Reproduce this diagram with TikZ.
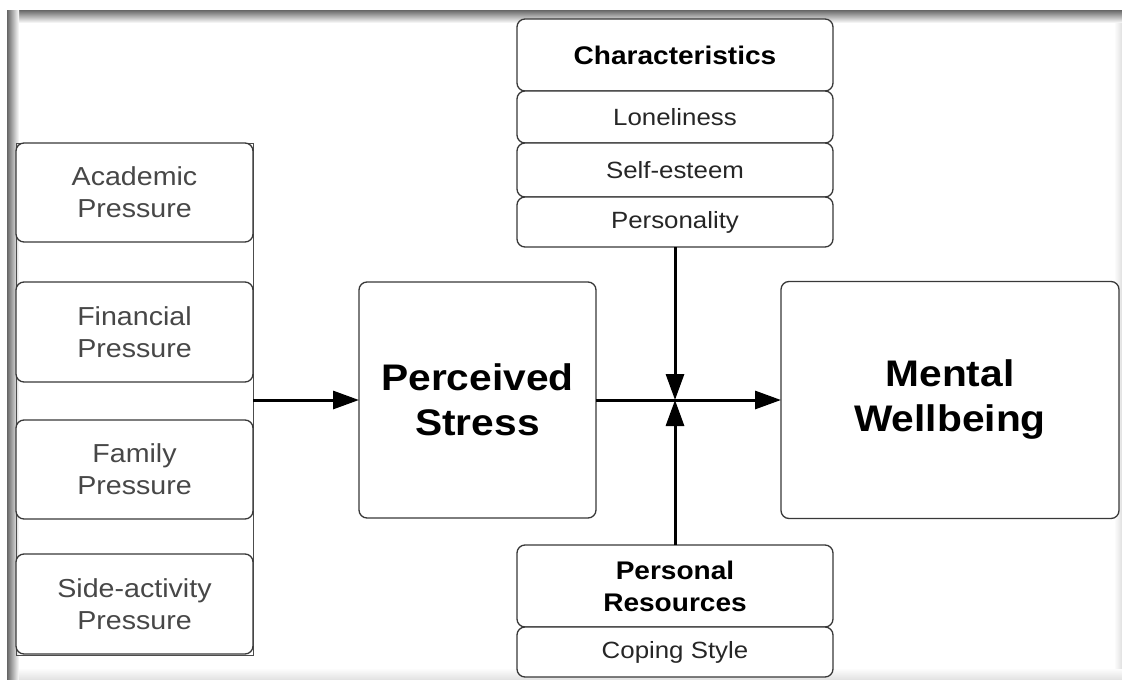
\documentclass[tikz,border=0pt]{standalone}
\usepackage{fontspec}
\setmainfont{Liberation Sans}[FakeStretch=1.1]
\usetikzlibrary{arrows.meta}
\begin{document}
\begin{tikzpicture}[x=1pt,y=-1pt,
  box/.style={draw=black!78, line width=1.3pt, rounded corners=8pt, fill=white,
    inner sep=0pt, outer sep=0pt, align=center},
  leftbox/.style={box, minimum width=237pt, text=black!72,
    font=\fontsize{26}{32}\selectfont},
  subbox/.style={box, minimum width=316pt, text=black!85,
    font=\fontsize{23.5}{28}\selectfont},
  headbox/.style={box, minimum width=316pt, text=black,
    font=\fontsize{25.5}{32}\selectfont\bfseries},
  bigbox/.style={box, text=black, font=\fontsize{37}{45}\selectfont\bfseries},
  flow/.style={line width=3pt, black, -{Triangle[length=26pt, width=18pt]}}
]
\useasboundingbox (0,0) rectangle (1122,680);
\fill[white] (0,0) rectangle (1122,680);
% screenshot frame shadow
\shade[top color=black!60, bottom color=white] (7,10) rectangle (1122,23);
\shade[left color=black!60, right color=white] (7,10) rectangle (19,680);
\shade[top color=white, bottom color=black!12] (19,668) rectangle (1122,680);
\shade[left color=white, right color=black!12] (1114,23) rectangle (1122,668);

% pressures column
\node[draw=black!70, line width=0.9pt, minimum width=237pt, minimum height=512pt,
  inner sep=0pt, outer sep=0pt] (pressures) at (134.5,399) {};
\node[leftbox, minimum height=99pt]  (academic)  at (134.5,192.5) {Academic\\Pressure};
\node[leftbox, minimum height=100pt] (financial) at (134.5,332) {Financial\\Pressure};
\node[leftbox, minimum height=99pt]  (family)    at (134.5,469.5) {Family\\Pressure};
\node[leftbox, minimum height=100pt] (side)      at (134.5,604) {Side-activity\\Pressure};

% characteristics
\node[headbox, minimum height=72pt] (characteristics) at (675,55) {Characteristics};
\node[subbox, minimum height=52pt] (loneliness) at (675,117) {Loneliness};
\node[subbox, minimum height=54pt] (selfesteem) at (675,170) {Self-esteem};
\node[subbox, minimum height=50pt] (personality) at (675,222) {Personality};

% personal resources
\node[headbox, minimum height=82pt] (personal) at (675,586) {Personal\\Resources};
\node[subbox, minimum height=50pt] (coping) at (675,652) {Coping Style};

% main boxes
\node[bigbox, minimum width=237pt, minimum height=236pt] (stress) at (477.5,400) {Perceived\\Stress};
\node[bigbox, minimum width=338pt, minimum height=237pt] (mental) at (950,400) {Mental\\Wellbeing};

% connectors
\coordinate (cross) at (personality.south |- stress.east);
\draw[flow] (pressures.east |- stress.west) -- (stress.west);
\draw[flow] (stress.east) -- (mental.west);
\draw[flow] (personality.south) -- (cross);
\draw[flow] (personal.north) -- (cross);
\end{tikzpicture}
\end{document}
